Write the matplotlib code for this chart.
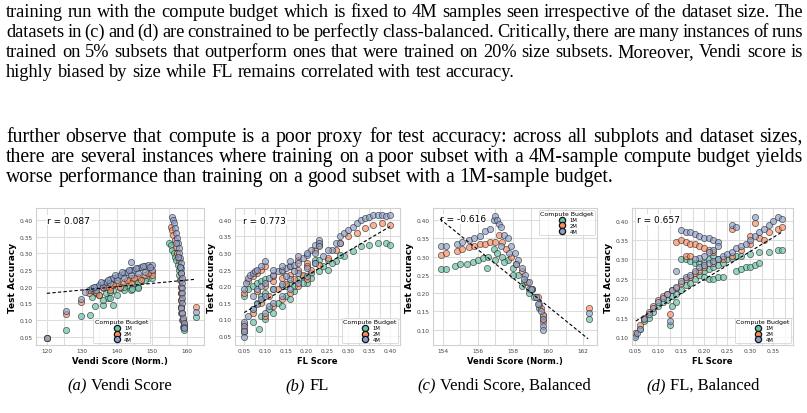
import matplotlib
matplotlib.use("Agg")
import matplotlib.pyplot as plt
from matplotlib.ticker import MultipleLocator

W, H = 807, 414

# ---- text of the page ----
para1 = [
    "training run with the compute budget which is fixed to 4M samples seen irrespective of the dataset size. The",
    "datasets in (c) and (d) are constrained to be perfectly class-balanced. Critically, there are many instances of runs",
    "trained on 5% subsets that outperform ones that were trained on 20% size subsets. Moreover, Vendi score is",
    "highly biased by size while FL remains correlated with test accuracy.",
]
para2 = [
    "further observe that compute is a poor proxy for test accuracy: across all subplots and dataset sizes,",
    "there are several instances where training on a poor subset with a 4M-sample compute budget yields",
    "worse performance than training on a good subset with a 1M-sample budget.",
]
para1_y = [17, 37, 57, 77]
para2_y = [142, 162, 182]
captions = [("(a)", "Vendi Score"), ("(b)", "FL"), ("(c)", "Vendi Score, Balanced"), ("(d)", "FL, Balanced")]
caption_x = [120, 307, 504, 703]

budgets = ["1M", "2M", "4M"]
colors = ["#66c2a5", "#fc8d62", "#8da0cb"]

# ---- (a) Vendi score ----
a_x_1m = [120, 125.6, 129.9, 132.3, 133.7, 136.1, 138.9, 137.5, 136, 138, 140, 142, 144, 146,
          133, 135, 137, 139, 141, 143, 145, 147, 149, 150, 144.2, 146, 134, 138, 142, 146, 148,
          155.0, 155.4, 155.8, 156.2, 156.6, 157.0, 157.4, 157.7, 157.9, 158.1, 158.2, 158.3,
          158.3, 158.2, 158.4, 158.7, 159.0, 159.2, 162.5]
a_y_1m = [0.045, 0.069, 0.111, 0.116, 0.141, 0.146, 0.145, 0.166, 0.16, 0.165, 0.175, 0.19, 0.19, 0.2,
          0.17, 0.175, 0.18, 0.19, 0.195, 0.205, 0.21, 0.22, 0.225, 0.225, 0.193, 0.197,
          0.18, 0.185, 0.2, 0.215, 0.22,
          0.33, 0.325, 0.31, 0.3, 0.29, 0.28, 0.265, 0.25, 0.235, 0.22, 0.2, 0.18,
          0.16, 0.14, 0.12, 0.1, 0.08, 0.07, 0.11]
a_x_2m = [120, 125.6, 129.9, 132, 134, 136, 138, 140, 142, 144, 146, 148, 150,
          135, 138, 141, 144, 147, 150, 133, 137, 139, 143, 145, 149,
          155.4, 155.7, 156.1, 156.5, 156.9, 157.3, 157.7, 158.0, 158.2, 158.3, 158.4, 158.4,
          158.3, 158.4, 158.7, 159.0, 159.2, 162.5]
a_y_2m = [0.045, 0.118, 0.155, 0.18, 0.185, 0.195, 0.2, 0.21, 0.215, 0.225, 0.23, 0.235, 0.245,
          0.175, 0.19, 0.2, 0.21, 0.22, 0.235, 0.19, 0.2, 0.205, 0.22, 0.225, 0.24,
          0.38, 0.37, 0.355, 0.34, 0.32, 0.3, 0.28, 0.26, 0.24, 0.22, 0.2, 0.18,
          0.16, 0.14, 0.12, 0.1, 0.085, 0.14]
a_x_4m = [120, 125.6, 129.9, 132, 133, 134, 135, 136, 137, 138, 139, 140, 141, 142, 143, 144,
          145, 146, 147, 148, 149, 150, 134, 136, 138, 140, 142, 144, 146, 148, 150, 144,
          131, 133.5, 135.5, 137.5, 139.5, 141.5, 143.5, 145.5, 147.5, 149.5,
          155.8, 156.0, 156.3, 156.6, 156.9, 157.2, 157.5, 157.7, 157.9, 158.1, 158.2, 158.3,
          158.4, 158.5, 158.6, 158.6, 158.6, 158.5, 158.5, 158.4, 158.6, 158.9, 159.1, 159.2,
          159.3, 157.0, 157.6, 158.0, 162.5]
a_y_4m = [0.045, 0.128, 0.164, 0.19, 0.195, 0.2, 0.205, 0.212, 0.215, 0.222, 0.226, 0.23, 0.236,
          0.24, 0.244, 0.25, 0.25, 0.256, 0.26, 0.262, 0.265, 0.266, 0.19, 0.2, 0.21, 0.22,
          0.226, 0.235, 0.24, 0.245, 0.25, 0.275,
          0.185, 0.2, 0.215, 0.22, 0.235, 0.245, 0.25, 0.255, 0.262, 0.26,
          0.41, 0.4, 0.39, 0.375, 0.36, 0.345, 0.33, 0.315, 0.3, 0.285, 0.27, 0.255,
          0.24, 0.225, 0.21, 0.195, 0.18, 0.165, 0.15, 0.135, 0.12, 0.105, 0.09, 0.08,
          0.075, 0.33, 0.29, 0.26, 0.125]
a_fit_x = [120, 162.3]
a_fit_y = [0.18, 0.222]

# ---- (b) FL ----
b_x_1m = [0.05, 0.06, 0.07, 0.08, 0.09, 0.1,
          0.07, 0.08, 0.09, 0.1, 0.12, 0.14, 0.16, 0.18, 0.2, 0.22, 0.23,
          0.05, 0.07, 0.09, 0.11, 0.13, 0.15, 0.17, 0.19, 0.21, 0.23, 0.25, 0.27, 0.29,
          0.31, 0.33, 0.35, 0.37, 0.39, 0.4,
          0.22, 0.25, 0.28, 0.085, 0.1, 0.12, 0.14, 0.16,
          0.15, 0.17, 0.19, 0.21, 0.24, 0.26]
b_y_1m = [0.17, 0.19, 0.2, 0.21, 0.215, 0.22,
          0.13, 0.15, 0.17, 0.18, 0.19, 0.2, 0.21, 0.22, 0.21, 0.28, 0.28,
          0.06, 0.09, 0.11, 0.13, 0.15, 0.17, 0.185, 0.21, 0.24, 0.245, 0.25, 0.275, 0.29,
          0.305, 0.32, 0.325, 0.33, 0.33, 0.325,
          0.27, 0.28, 0.295, 0.07, 0.1, 0.12, 0.14, 0.16,
          0.2, 0.2, 0.23, 0.225, 0.26, 0.27]
b_x_2m = [0.05, 0.06, 0.07, 0.08, 0.09, 0.1,
          0.08, 0.1, 0.12, 0.14, 0.16, 0.18, 0.2, 0.22, 0.23,
          0.05, 0.07, 0.09, 0.11, 0.13, 0.15, 0.17, 0.19, 0.21, 0.23, 0.25, 0.27, 0.28,
          0.3, 0.32, 0.34, 0.36, 0.38, 0.4,
          0.1, 0.12, 0.14, 0.16, 0.18, 0.2, 0.05,
          0.12, 0.14, 0.16, 0.18, 0.2]
b_y_2m = [0.18, 0.215, 0.23, 0.24, 0.25, 0.26,
          0.185, 0.2, 0.215, 0.225, 0.235, 0.25, 0.27, 0.31, 0.325,
          0.085, 0.12, 0.15, 0.17, 0.19, 0.205, 0.22, 0.235, 0.25, 0.265, 0.285, 0.31, 0.33,
          0.35, 0.36, 0.375, 0.385, 0.39, 0.385,
          0.11, 0.14, 0.16, 0.18, 0.2, 0.22, 0.07,
          0.23, 0.245, 0.26, 0.28, 0.26]
b_x_4m = [0.05, 0.055, 0.06, 0.065, 0.07, 0.075, 0.08, 0.09, 0.1,
          0.07, 0.08, 0.09, 0.1, 0.11, 0.12, 0.13, 0.14, 0.15, 0.16, 0.17, 0.18, 0.19, 0.2,
          0.21, 0.22, 0.23, 0.23, 0.23,
          0.05, 0.06, 0.07, 0.08, 0.09, 0.1, 0.12, 0.14, 0.16, 0.18, 0.2, 0.22, 0.24, 0.26,
          0.27, 0.28, 0.29, 0.3, 0.31, 0.32, 0.33, 0.34, 0.35, 0.36, 0.37, 0.38, 0.39, 0.4,
          0.1, 0.11, 0.12, 0.14, 0.16, 0.18, 0.2, 0.22, 0.25, 0.28, 0.05, 0.05, 0.05,
          0.12, 0.14, 0.16, 0.18, 0.2, 0.15, 0.17]
b_y_4m = [0.19, 0.21, 0.225, 0.235, 0.24, 0.245, 0.25, 0.26, 0.275,
          0.17, 0.19, 0.2, 0.21, 0.225, 0.235, 0.245, 0.25, 0.255, 0.26, 0.265, 0.27, 0.285,
          0.295, 0.31, 0.325, 0.34, 0.33, 0.32,
          0.09, 0.11, 0.13, 0.145, 0.16, 0.17, 0.19, 0.205, 0.22, 0.24, 0.255, 0.27, 0.29,
          0.31, 0.33, 0.35, 0.36, 0.37, 0.38, 0.39, 0.4, 0.405, 0.41, 0.415, 0.415, 0.415,
          0.413, 0.415,
          0.12, 0.14, 0.15, 0.17, 0.19, 0.21, 0.23, 0.3, 0.31, 0.33, 0.08, 0.065, 0.045,
          0.25, 0.26, 0.275, 0.29, 0.3, 0.23, 0.245]
b_fit_x = [0.05, 0.40]
b_fit_y = [0.12, 0.38]

# ---- (c) Vendi score, balanced ----
c_x_1m = [153.9, 154.2, 154.7, 155.0, 155.4, 155.7, 156.0, 156.3, 156.6, 156.9, 157.1, 157.4,
          157.7, 158.0, 158.3, 158.6, 158.9, 159.2, 159.5, 159.7, 159.7, 162.3,
          156.5, 157.0, 157.5, 158.0, 158.5, 158.9]
c_y_1m = [0.265, 0.265, 0.275, 0.28, 0.28, 0.285, 0.29, 0.295, 0.3, 0.32, 0.31, 0.3,
          0.29, 0.27, 0.25, 0.23, 0.21, 0.19, 0.16, 0.14, 0.13, 0.13,
          0.27, 0.29, 0.285, 0.25, 0.22, 0.2]
c_x_2m = [153.9, 154.2, 154.8, 155.1, 155.5, 155.8, 156.1, 156.4, 156.7, 157.0, 157.2, 157.4,
          157.6, 157.9, 158.2, 158.5, 158.8, 159.1, 159.4, 159.6, 159.7, 159.7, 162.3]
c_y_2m = [0.305, 0.31, 0.315, 0.32, 0.325, 0.33, 0.335, 0.335, 0.34, 0.34, 0.36, 0.34,
          0.32, 0.3, 0.28, 0.26, 0.23, 0.21, 0.19, 0.16, 0.14, 0.12, 0.16]
c_x_4m = [153.9, 154.2, 154.8, 155.1, 155.5, 155.8, 156.1, 156.4, 156.7, 156.9, 157.0, 157.1,
          157.2, 157.3, 157.5, 157.7, 157.9, 158.1, 158.3, 158.5, 158.7, 158.9, 159.1, 159.3,
          159.5, 159.6, 159.7, 159.7, 159.7, 162.3,
          157.3, 157.8, 158.2, 158.6, 159.0, 159.4]
c_y_4m = [0.33, 0.33, 0.335, 0.34, 0.345, 0.35, 0.355, 0.37, 0.375, 0.4, 0.41, 0.4,
          0.39, 0.38, 0.36, 0.35, 0.33, 0.31, 0.29, 0.27, 0.25, 0.23, 0.21, 0.19,
          0.17, 0.15, 0.13, 0.11, 0.1, 0.145,
          0.33, 0.31, 0.28, 0.24, 0.21, 0.17]
c_fit_x = [153.85, 162.27]
c_fit_y = [0.403, 0.075]

# ---- (d) FL, balanced ----
d_x_1m = [0.05, 0.06, 0.07, 0.08, 0.09, 0.1, 0.11, 0.12, 0.13, 0.14, 0.15, 0.16, 0.17, 0.18,
          0.19, 0.2, 0.21, 0.22, 0.23, 0.24, 0.25, 0.26, 0.27, 0.28, 0.3, 0.32, 0.34, 0.36, 0.37,
          0.15, 0.16, 0.17, 0.18, 0.19, 0.2, 0.21, 0.22, 0.23,
          0.2, 0.21, 0.22, 0.23, 0.24, 0.27, 0.28, 0.29, 0.3, 0.31, 0.32,
          0.125, 0.13, 0.14]
d_y_1m = [0.105, 0.12, 0.14, 0.15, 0.165, 0.18, 0.19, 0.195, 0.205, 0.21, 0.22, 0.235, 0.24, 0.25,
          0.26, 0.27, 0.275, 0.28, 0.285, 0.29, 0.3, 0.305, 0.31, 0.31, 0.315, 0.32, 0.32, 0.325,
          0.325,
          0.3, 0.3, 0.295, 0.29, 0.29, 0.29, 0.3, 0.31, 0.3,
          0.255, 0.25, 0.25, 0.255, 0.255, 0.27, 0.275, 0.28, 0.28, 0.285, 0.29,
          0.13, 0.18, 0.19]
d_x_2m = [0.05, 0.06, 0.07, 0.08, 0.09, 0.1, 0.11, 0.12, 0.13, 0.14, 0.15, 0.16, 0.17, 0.18,
          0.19, 0.2, 0.22, 0.24, 0.26, 0.28, 0.3, 0.32, 0.34, 0.36, 0.37,
          0.14, 0.15, 0.16, 0.17, 0.18, 0.19, 0.2, 0.21, 0.22, 0.16, 0.17,
          0.26, 0.31, 0.125, 0.3, 0.33]
d_y_2m = [0.11, 0.13, 0.15, 0.165, 0.18, 0.195, 0.205, 0.21, 0.22, 0.225, 0.24, 0.25, 0.255,
          0.265, 0.27, 0.28, 0.29, 0.3, 0.31, 0.325, 0.34, 0.355, 0.37, 0.38, 0.385,
          0.345, 0.35, 0.345, 0.34, 0.34, 0.335, 0.33, 0.325, 0.32, 0.31, 0.31,
          0.38, 0.395, 0.16, 0.36, 0.35]
d_x_4m = [0.05, 0.055, 0.06, 0.07, 0.08, 0.09, 0.1, 0.11, 0.12, 0.13, 0.14, 0.15, 0.16, 0.17,
          0.18, 0.19, 0.2, 0.21, 0.22, 0.23, 0.24, 0.25, 0.26, 0.27, 0.28, 0.29, 0.3, 0.31,
          0.32, 0.33, 0.34, 0.35, 0.36, 0.37,
          0.15, 0.16, 0.17, 0.18, 0.19, 0.2, 0.21, 0.22, 0.23, 0.23, 0.22, 0.21, 0.2, 0.19,
          0.18, 0.14, 0.26, 0.27, 0.31, 0.125]
d_y_4m = [0.1, 0.11, 0.12, 0.145, 0.16, 0.175, 0.19, 0.2, 0.21, 0.22, 0.23, 0.245, 0.255, 0.26,
          0.27, 0.28, 0.285, 0.29, 0.295, 0.3, 0.31, 0.315, 0.32, 0.33, 0.335, 0.34, 0.35, 0.36,
          0.37, 0.38, 0.39, 0.4, 0.41, 0.405,
          0.375, 0.37, 0.37, 0.365, 0.36, 0.355, 0.355, 0.35, 0.345, 0.335, 0.325, 0.32, 0.31,
          0.305, 0.3, 0.27, 0.39, 0.385, 0.41, 0.14]
d_fit_x = [0.052, 0.368]
d_fit_y = [0.141, 0.37]

panels = [
    dict(xs=[a_x_1m, a_x_2m, a_x_4m], ys=[a_y_1m, a_y_2m, a_y_4m], fx=a_fit_x, fy=a_fit_y,
         r="r = 0.087", xlabel="Vendi Score (Norm.)", xlim=(116.9, 164.9), ylim=(0.025, 0.436),
         xmaj=10, xmin=5, yticks=[0.05, 0.10, 0.15, 0.20, 0.25, 0.30, 0.35, 0.40],
         leg=dict(loc="lower center", bbox_to_anchor=(0.51, 0.0)), rpos=(0.065, 0.912), box=(36, 168)),
    dict(xs=[b_x_1m, b_x_2m, b_x_4m], ys=[b_y_1m, b_y_2m, b_y_4m], fx=b_fit_x, fy=b_fit_y,
         r="r = 0.773", xlabel="FL Score", xlim=(0.028, 0.424), ylim=(0.022, 0.436),
         xmaj=0.05, xmin=0.025, yticks=[0.05, 0.10, 0.15, 0.20, 0.25, 0.30, 0.35, 0.40],
         leg=dict(loc="lower right"), rpos=(0.05, 0.912), box=(235, 165)),
    dict(xs=[c_x_1m, c_x_2m, c_x_4m], ys=[c_y_1m, c_y_2m, c_y_4m], fx=c_fit_x, fy=c_fit_y,
         r="r = -0.616", xlabel="Vendi Score (Norm.)", xlim=(153.45, 162.78), ylim=(0.058, 0.433),
         xmaj=2, xmin=1, yticks=[0.10, 0.15, 0.20, 0.25, 0.30, 0.35, 0.40],
         leg=dict(loc="upper right"), rpos=(0.04, 0.92), box=(433, 164)),
    dict(xs=[d_x_1m, d_x_2m, d_x_4m], ys=[d_y_1m, d_y_2m, d_y_4m], fx=d_fit_x, fy=d_fit_y,
         r="r = 0.657", xlabel="FL Score", xlim=(0.0435, 0.393), ylim=(0.079, 0.433),
         xmaj=0.05, xmin=0.025, yticks=[0.10, 0.15, 0.20, 0.25, 0.30, 0.35, 0.40],
         leg=dict(loc="lower right"), rpos=(0.03, 0.915), box=(632, 161)),
]

fig = plt.figure(figsize=(W / 100, H / 100), dpi=100)
fig.patch.set_facecolor("white")

grid_c = "#dcdcdc"
for p in panels:
    left, width = p["box"]
    ax = fig.add_axes([left / W, 1 - 346 / H, width / W, 137 / H])
    ax.set_axisbelow(True)
    for i in range(3):
        ax.scatter(p["xs"][i], p["ys"][i], s=20, color=colors[i], alpha=0.68,
                   edgecolors="#222222", linewidths=0.55, zorder=2, label=budgets[i])
    ax.plot(p["fx"], p["fy"], ls="--", color="black", lw=0.8, zorder=3, dashes=(3, 2))
    ax.text(p["rpos"][0], p["rpos"][1], p["r"], transform=ax.transAxes, fontsize=6.5,
            va="center", ha="left", zorder=1.5,
            bbox=dict(facecolor="white", edgecolor="none", pad=0.5))
    ax.set_xlim(p["xlim"])
    ax.set_ylim(p["ylim"])
    ax.xaxis.set_major_locator(MultipleLocator(p["xmaj"]))
    ax.xaxis.set_minor_locator(MultipleLocator(p["xmin"]))
    ax.set_yticks(p["yticks"])
    ax.yaxis.set_major_formatter(plt.FormatStrFormatter("%.2f"))
    if p["xmaj"] < 1:
        ax.xaxis.set_major_formatter(plt.FormatStrFormatter("%.2f"))
    ax.grid(True, which="major", color=grid_c, lw=0.8)
    ax.grid(True, which="minor", axis="x", color=grid_c, lw=0.8)
    ax.tick_params(which="both", length=0, labelsize=4.2, labelcolor="#444444", pad=2.5)
    for sp in ax.spines.values():
        sp.set_color("#d0d0d0")
        sp.set_linewidth(0.8)
    ax.set_xlabel(p["xlabel"], fontsize=6, fontweight="bold", labelpad=2)
    ax.set_ylabel("Test Accuracy", fontsize=6.5, fontweight="bold", labelpad=2)
    leg = ax.legend(title="Compute Budget", fontsize=3.8, title_fontsize=4.5, frameon=True,
                    borderpad=0.3, labelspacing=0.15, handletextpad=0.4, borderaxespad=0.3,
                    markerscale=1.0, **p["leg"])
    leg.get_frame().set_edgecolor("#cccccc")
    leg.get_frame().set_linewidth(0.6)
    for h in leg.legend_handles:
        h.set_alpha(1.0)
        h.set_edgecolor("#111111")
        h.set_linewidth(0.9)

# ---- page text ----
serif = "Liberation Serif"
renderer = fig.canvas.get_renderer()


def put_line(line, ypix, size, justify):
    words = line.split(" ")
    arts = [fig.text(0, 1 - ypix / H, w, fontsize=size, family=serif, va="baseline")
            for w in words]
    widths = [a.get_window_extent(renderer).width for a in arts]
    x0, x1 = 6, 803
    space = size * 0.25 * 100 / 72
    if justify and len(words) > 1:
        gap = max((x1 - x0 - sum(widths)) / (len(words) - 1), space * 0.5)
    else:
        gap = space
    x = x0
    for a, w in zip(arts, widths):
        a.set_x(x / W)
        x += w + gap


for i, line in enumerate(para1):
    put_line(line, para1_y[i], 13.2, i < len(para1) - 1)
for i, line in enumerate(para2):
    put_line(line, para2_y[i], 14.2, i < len(para2) - 1)

for (lab, txt), cx in zip(captions, caption_x):
    t1 = fig.text(0, 1 - 390 / H, lab, fontsize=12, family=serif, style="italic", va="baseline")
    t2 = fig.text(0, 1 - 390 / H, txt, fontsize=12, family=serif, va="baseline")
    w1 = t1.get_window_extent(renderer).width
    w2 = t2.get_window_extent(renderer).width
    sp = 12 * 0.25 * 100 / 72
    start = cx - (w1 + sp + w2) / 2
    t1.set_x(start / W)
    t2.set_x((start + w1 + sp) / W)

fig.savefig("out.png", dpi=100)
